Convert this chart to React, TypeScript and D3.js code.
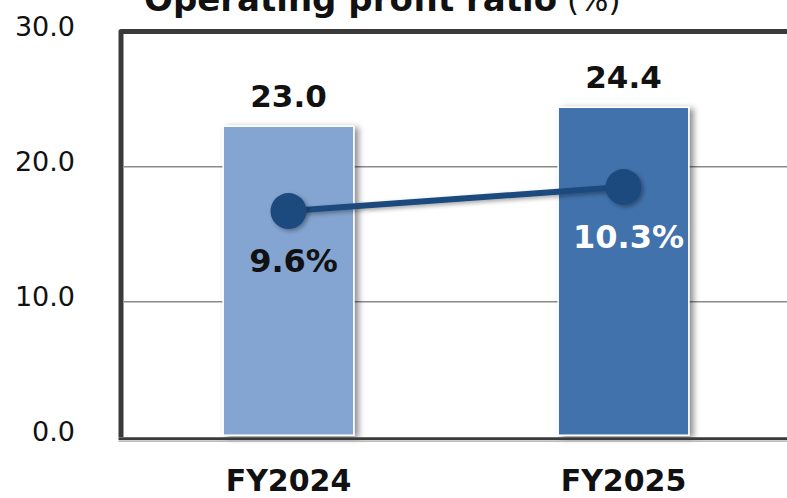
import React from "react";
import * as d3 from "d3";

const categories = ["FY2024", "FY2025"];
const salesValues = [23.0, 24.4];
const ratioValues = [9.6, 10.3];
const yTicks = [0, 10, 20, 30];
const barColors = ["#84A5D1", "#4272AC"];

const W = 787;
const H = 498;

export default function App() {
  const x = d3.scaleBand<string>().domain(categories).range([121, 791]).paddingInner(0.61).paddingOuter(0.305);
  const y = d3.scaleLinear().domain([0, 30]).range([436.7, 31.7]);
  const y2 = d3.scaleLinear().domain([3.02, 14.83]).range([436.7, 31.7]);
  const cx = (c: string) => (x(c) as number) + x.bandwidth() / 2;
  const line = d3
    .line<number>()
    .x((_, i) => cx(categories[i]))
    .y((d) => y2(d));
  const bold = "'DejaVu Sans', Verdana, sans-serif";

  return (
    <svg width={W} height={H} style={{ position: "fixed", left: 0, top: 0, background: "#fff" }}>
      <defs>
        <filter id="shadow" x="-20%" y="-20%" width="150%" height="150%">
          <feDropShadow dx="4" dy="2" stdDeviation="3" floodColor="#000" floodOpacity="0.45" />
        </filter>
        <filter id="pshadow" x="-50%" y="-50%" width="200%" height="200%">
          <feDropShadow dx="2" dy="2" stdDeviation="2" floodColor="#000" floodOpacity="0.35" />
        </filter>
      </defs>
      <rect width={W} height={H} fill="#fff" />
      {/* title */}
      <text x={144} y={11} fontFamily={bold} fontSize={34} fill="#111">
        <tspan fontWeight="bold">Operating profit ratio</tspan>
        <tspan fontWeight="normal" fontSize={31}> (%)</tspan>
      </text>
      {/* gridlines */}
      {yTicks.filter((t) => t > 0 && t < 30).map((t) => (
        <line key={t} x1={124} x2={W} y1={y(t)} y2={y(t)} stroke="#8A8A8A" strokeWidth={1.6} />
      ))}
      {/* y tick labels */}
      {yTicks.map((t) => (
        <text key={t} x={75} y={y(t) - 5} dy="0.36em" textAnchor="end" fontFamily={bold} fontSize={27} fill="#111">
          {d3.format(".1f")(t)}
        </text>
      ))}
      {/* bars */}
      {categories.map((c, i) => (
        <rect
          key={c}
          x={x(c)}
          y={y(salesValues[i])}
          width={x.bandwidth()}
          height={y(0) - y(salesValues[i]) - 1.5}
          fill={barColors[i]}
          stroke="#fff"
          strokeWidth={1.5}
          filter="url(#shadow)"
        />
      ))}
      {/* frame */}
      <path d={`M121,437 L121,31.5 L${W + 5},31.5`} fill="none" stroke="#3A3A3A" strokeWidth={5} strokeLinejoin="round" />
      <line x1={118.5} x2={W} y1={438.8} y2={438.8} stroke="#3A3A3A" strokeWidth={3} />
      <line x1={118.5} x2={W} y1={441.5} y2={441.5} stroke="#BBBBBB" strokeWidth={1.2} />
      {/* bar value labels */}
      {categories.map((c, i) => (
        <text key={c} x={cx(c)} y={y(salesValues[i]) - 19} textAnchor="middle" fontFamily={bold} fontWeight="bold" fontSize={31} fill="#111">
          {d3.format(".1f")(salesValues[i])}
        </text>
      ))}
      {/* line */}
      <path d={line(ratioValues) || ""} fill="none" stroke="#1F4A7E" strokeWidth={6} filter="url(#pshadow)" />
      {ratioValues.map((v, i) => (
        <circle key={i} cx={cx(categories[i])} cy={y2(v)} r={18} fill="#1F4A7E" filter="url(#pshadow)" />
      ))}
      {ratioValues.map((v, i) => (
        <text
          key={i}
          x={cx(categories[i]) + 5}
          y={y2(v) + 61}
          textAnchor="middle"
          fontFamily={bold}
          fontWeight="bold"
          fontSize={32}
          fill={i === 0 ? "#111" : "#fff"}
        >
          {d3.format(".1f")(v)}%
        </text>
      ))}
      {/* x labels */}
      {categories.map((c) => (
        <text key={c} x={cx(c)} y={491} textAnchor="middle" fontFamily={bold} fontWeight="bold" fontSize={30} fill="#111">
          {c}
        </text>
      ))}
    </svg>
  );
}
